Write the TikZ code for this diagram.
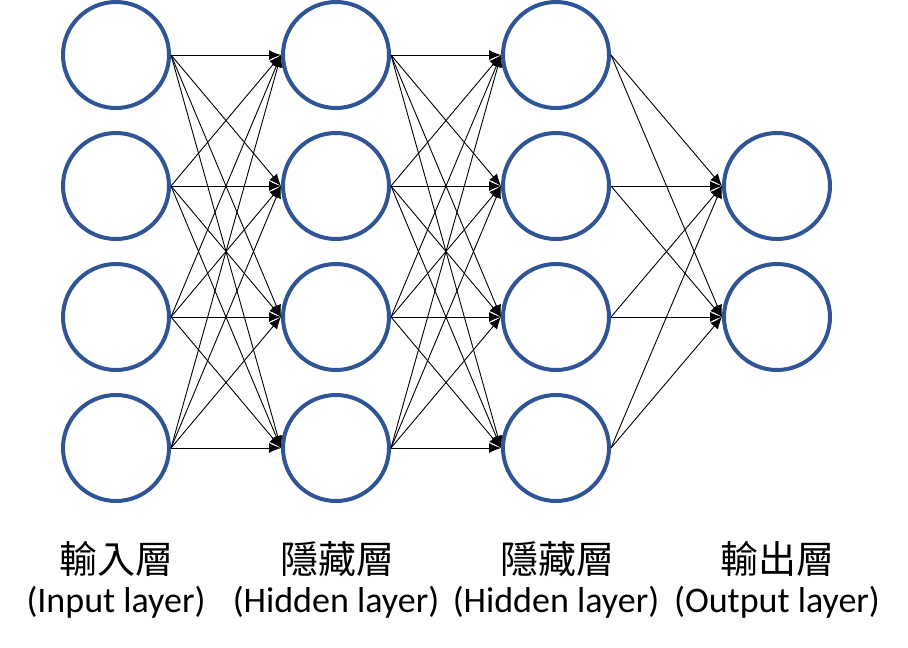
\documentclass[tikz,border=0pt]{standalone}
\usepackage{fontspec}
\setmainfont{Carlito}
\newfontfamily\cjk{Noto Sans CJK TC}
\usetikzlibrary{arrows.meta}
\definecolor{nodeblue}{RGB}{47,85,151}
\begin{document}
\begin{tikzpicture}[x=1pt,y=-1pt,
  neuron/.style={circle,draw=nodeblue,line width=4pt,minimum size=106pt,inner sep=0pt,fill=white},
  conn/.style={line width=0.9pt,-{Latex[length=12pt,width=10pt]}},
  cjklabel/.style={font=\cjk\fontsize{38}{42}\selectfont,inner sep=0pt},
  enlabel/.style={font=\fontsize{36}{40}\selectfont,inner sep=0pt}]
\useasboundingbox (0,0) rectangle (908,648);
\foreach \i/\y in {1/55,2/186,3/317,4/448}{
  \node[neuron] (a\i) at (116,\y) {};
  \node[neuron] (b\i) at (336,\y) {};
  \node[neuron] (c\i) at (556,\y) {};
}
\node[neuron] (d1) at (777,186) {};
\node[neuron] (d2) at (777,317) {};
\foreach \i in {1,...,4}{
  \foreach \j in {1,...,4}{
    \draw[conn] (a\i.east) -- (b\j.west);
    \draw[conn] (b\i.east) -- (c\j.west);
  }
  \foreach \j in {1,2}{
    \draw[conn] (c\i.east) -- (d\j.west);
  }
}
\node[cjklabel] (l1) at (116,559) {輸入層};
\node[cjklabel] (l2) at (337,559) {隱藏層};
\node[cjklabel] (l3) at (557,559) {隱藏層};
\node[cjklabel] (l4) at (777,559) {輸出層};
\node[enlabel] (e1) at (116,602) {(Input layer)};
\node[enlabel] (e2) at (336,602) {(Hidden layer)};
\node[enlabel] (e3) at (556,602) {(Hidden layer)};
\node[enlabel] (e4) at (777,602) {(Output layer)};
\end{tikzpicture}
\end{document}
